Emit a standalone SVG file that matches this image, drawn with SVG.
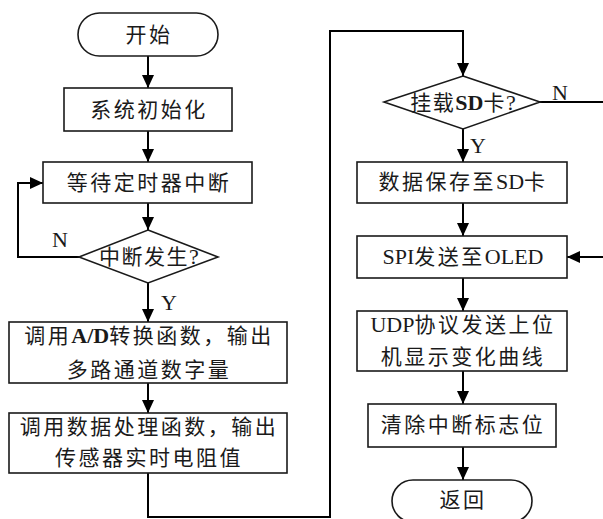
<svg xmlns="http://www.w3.org/2000/svg" width="603" height="519" viewBox="0 0 603 519">
<defs>
<marker id="ah" markerUnits="userSpaceOnUse" markerWidth="14" markerHeight="12" refX="13" refY="6" orient="auto">
<path d="M0,0 L13,6 L0,12 z" fill="#000"/>
</marker>
<style>
.box{fill:#fff;stroke:#1a1a1a;stroke-width:1.6}
.t{font-family:"Liberation Serif","Noto Sans CJK SC",serif;font-size:21px;letter-spacing:2.5px;fill:#1a1a1a;text-anchor:middle}
.d{letter-spacing:1.5px}
.l{letter-spacing:0;font-size:22px}
.lbl{font-family:"Liberation Serif",serif;font-size:22px;fill:#1a1a1a;text-anchor:middle}
.c{fill:none;stroke:#000;stroke-width:2}
.ca{fill:none;stroke:#000;stroke-width:2;marker-end:url(#ah)}
</style>
</defs>
<rect width="603" height="519" fill="#fff"/>
<g id="connectors">
<path class="ca" d="M148,56 V88"/>
<path class="ca" d="M148,131 V162"/>
<path class="ca" d="M148,203 V230"/>
<path class="ca" d="M79,257 H18 V183 H43"/>
<path class="ca" d="M148,283 V322"/>
<path class="ca" d="M148,383 V413"/>
<path class="ca" d="M148,473 V517 H330 V31 H463 V76"/>
<path class="ca" d="M463,129 V162"/>
<path class="ca" d="M463,203 V236"/>
<path class="ca" d="M463,278 V311"/>
<path class="ca" d="M463,371 V404"/>
<path class="ca" d="M463,447 V480"/>
<path class="ca" d="M540,102 H612 V257 H567"/>
<text class="lbl" x="60" y="247">N</text>
<text class="lbl" x="169" y="310">Y</text>
<text class="lbl" x="560" y="100">N</text>
<text class="lbl" x="478" y="153">Y</text>
</g>
<g id="start">
<rect class="box" x="78" y="13" width="140" height="43" rx="21.5"/>
<text class="t" x="149" y="42">开始</text>
</g>
<g id="init">
<rect class="box" x="64" y="88" width="168" height="43"/>
<text class="t" x="149" y="117">系统初始化</text>
</g>
<g id="wait">
<rect class="box" x="43" y="162" width="209" height="41"/>
<text class="t" x="149" y="190">等待定时器中断</text>
</g>
<g id="irq">
<polygon class="box" points="148,230 218,257 148,283 79,257"/>
<text class="t d" x="149" y="264">中断发生<tspan class="l">?</tspan></text>
</g>
<g id="adc">
<rect class="box" x="9" y="322" width="278" height="61"/>
<text class="t" x="149" y="343">调用<tspan class="l" font-weight="bold">A/D</tspan>转换函数，输出</text>
<text class="t" x="149" y="377">多路通道数字量</text>
</g>
<g id="proc">
<rect class="box" x="9" y="413" width="278" height="60"/>
<text class="t" x="149" y="434">调用数据处理函数，输出</text>
<text class="t" x="149" y="465">传感器实时电阻值</text>
</g>
<g id="sdq">
<polygon class="box" points="463,76 540,102 463,129 384,102"/>
<text class="t d" x="463" y="110">挂载<tspan class="l" font-weight="bold">SD</tspan>卡<tspan class="l">?</tspan></text>
</g>
<g id="save">
<rect class="box" x="357" y="162" width="210" height="41"/>
<text class="t" x="463" y="189">数据保存至<tspan class="l">SD</tspan>卡</text>
</g>
<g id="spi">
<rect class="box" x="357" y="236" width="210" height="42"/>
<text class="t" x="463" y="264"><tspan class="l">SPI</tspan>发送至<tspan class="l">OLED</tspan></text>
</g>
<g id="udp">
<rect class="box" x="357" y="311" width="210" height="60"/>
<text class="t" x="463" y="332"><tspan class="l">UDP</tspan>协议发送上位</text>
<text class="t" x="463" y="364">机显示变化曲线</text>
</g>
<g id="clear">
<rect class="box" x="368" y="404" width="188" height="43"/>
<text class="t" x="463" y="432">清除中断标志位</text>
</g>
<g id="ret">
<rect class="box" x="392" y="480" width="140" height="42" rx="21"/>
<text class="t" x="463" y="507">返回</text>
</g>
</svg>
